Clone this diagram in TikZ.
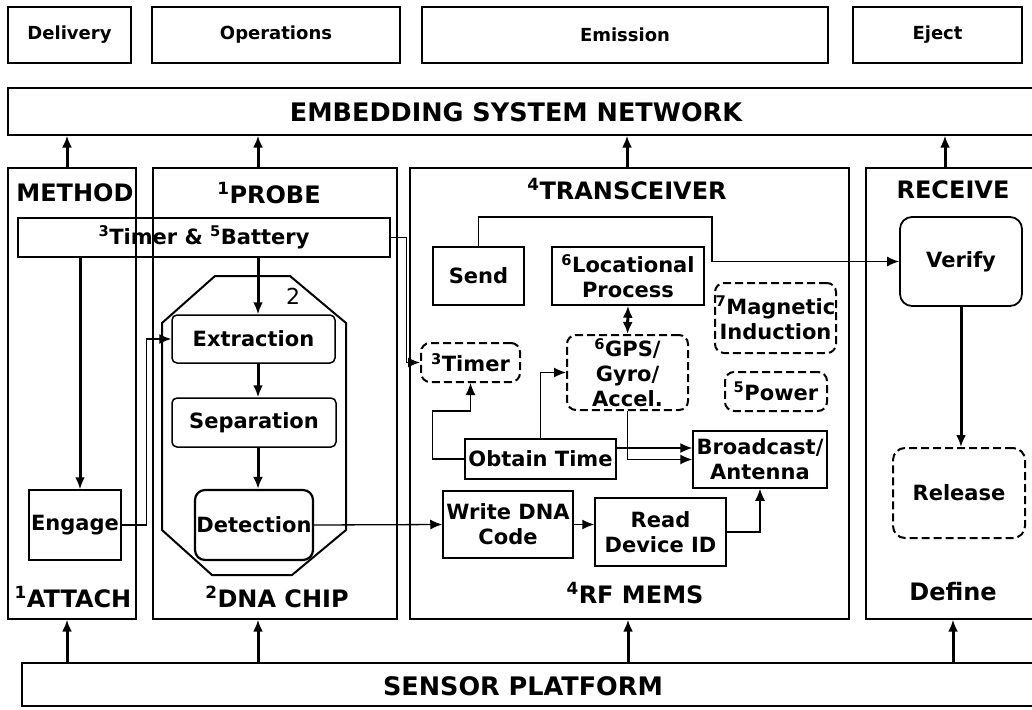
\documentclass[tikz, border = 0pt]{standalone}
\usepackage{fontspec}
\setmainfont{DejaVu Sans}
\usetikzlibrary{arrows.meta}

\newcommand{\tabfont}{\fontsize{18}{22}\selectfont\bfseries}
\newcommand{\boxfont}{\fontsize{21}{25}\selectfont\bfseries}
\newcommand{\lanefont}{\fontsize{24}{28}\selectfont\bfseries}
\newcommand{\bandfont}{\fontsize{25.5}{30}\selectfont\bfseries}

\begin{document}
\begin{tikzpicture}[> = {Latex[length = 12pt, width = 10pt]}, x = 1pt, y = -1pt,
	sized/.style 2 args = {minimum width = #1, minimum height = #2},
	box/.style = {draw, line width = 1.5pt, inner sep = 0pt, align = center, font = \boxfont},
	soft/.style = {box, rounded corners = 5pt},
	maybe/.style = {box, rounded corners = 9pt, line width = 2pt, dash pattern = on 8pt off 4pt},
	lane/.style = {draw, line width = 1.4pt, inner sep = 0pt},
	title/.style = {font = \lanefont},
	flow/.style = {->, line width = 1.3pt},
	feed/.style = {->, line width = 3pt}]

	\useasboundingbox (0, 0) rectangle (1032, 709);

	\node [box, font = \tabfont, sized = {123}{56}] (delivery) at (69.5, 35) {Delivery};
	\node [box, font = \tabfont, sized = {248}{56}] (operations) at (276, 35) {Operations};
	\node [box, font = \tabfont, sized = {406}{56}] (emission) at (625, 35) {Emission};
	\node [box, font = \tabfont, sized = {169}{56}] (eject) at (937.5, 35) {Eject};

	\node [lane, sized = {1032}{47}] (network) at (524, 111.5) {};
	\node [font = \bandfont] (networklabel) at (516, 112) {EMBEDDING SYSTEM NETWORK};
	\node [lane, sized = {1018}{43}] (platform) at (531, 684.5) {};
	\node [font = \bandfont] (platformlabel) at (523, 686) {SENSOR PLATFORM};

	\node [lane, sized = {128}{451}] (method) at (72, 393.5) {};
	\node [lane, sized = {244}{451}] (probe) at (275, 393.5) {};
	\node [lane, sized = {439}{451}] (transceiver) at (629.5, 393.5) {};
	\node [lane, sized = {174}{451}] (receive) at (953, 393.5) {};

	\foreach \lane/\x in {method/67, probe/258, transceiver/627, receive/945} {
		\coordinate (up\lane) at (\x, 0);
		\draw [feed] (\lane.north -| up\lane) -- (network.south -| up\lane);
	}
	\foreach \lane/\x in {method/67, probe/258, transceiver/628, receive/953} {
		\coordinate (down\lane) at (\x, 0);
		\draw [feed] (platform.north -| down\lane) -- (\lane.south -| down\lane);
	}

	\node [title] (methodtop) at (75, 193) {METHOD};
	\node [title] (probetop) at (269, 193) {\textsuperscript{1}PROBE};
	\node [title] (transceivertop) at (627, 189) {\textsuperscript{4}TRANSCEIVER};
	\node [title] (receivetop) at (953, 190) {RECEIVE};
	\node [title] (methodbottom) at (73, 597) {\textsuperscript{1}ATTACH};
	\node [title] (probebottom) at (277, 597) {\textsuperscript{2}DNA CHIP};
	\node [title] (transceiverbottom) at (635, 593) {\textsuperscript{4}RF MEMS};
	\node [title] (receivebottom) at (953, 592) {Define};

	\node [box, sized = {372}{39}] (battery) at (204, 237.5) {\textsuperscript{3}Timer \& \textsuperscript{5}Battery};
	\node [box, sized = {92}{70}] (engage) at (75, 525) {Engage};

	\draw [line width = 2pt] (215, 276) -- (290, 276) -- (346, 323) -- (346, 530) -- (292, 575) -- (212, 575) -- (162, 530) -- (162, 323) -- cycle;
	\node [font = \fontsize{22}{22}\selectfont] (chipnumber) at (293, 296) {2};

	\node [soft, sized = {163}{48}] (extraction) at (253.5, 339) {Extraction};
	\node [soft, sized = {164}{49}] (separation) at (254, 422.5) {Separation};
	\node [soft, rounded corners = 10pt, line width = 2.2pt, sized = {118}{70}] (detection) at (254, 525) {Detection};

	\coordinate (engagedrop) at (80, 0);
	\coordinate (chipdrop) at (258, 0);
	\draw [feed] (battery.south -| engagedrop) -- (engage.north -| engagedrop);
	\draw [feed] (battery.south -| chipdrop) -- (extraction.north -| chipdrop);
	\draw [feed] (extraction.south -| chipdrop) -- (separation.north -| chipdrop);
	\draw [feed] (separation.south -| chipdrop) -- (detection.north -| chipdrop);
	\draw [flow] (engage.east) -- ++(25, 0) |- (extraction.west);

	\node [box, sized = {91}{58}] (send) at (478.5, 276) {Send};
	\node [box, sized = {152}{58}] (locational) at (628, 276) {\textsuperscript{6}Locational\\Process};
	\node [maybe, sized = {121}{70}] (magnetic) at (775.5, 318) {\textsuperscript{7}Magnetic\\Induction};
	\node [maybe, sized = {99}{39}] (timer) at (470.5, 362.5) {\textsuperscript{3}Timer};
	\node [maybe, sized = {121}{75}] (gps) at (627.5, 372.5) {\textsuperscript{6}GPS/\\Gyro/\\Accel.};
	\node [maybe, sized = {102}{39}] (power) at (776, 391.5) {\textsuperscript{5}Power};
	\node [box, sized = {151}{40}] (obtain) at (540.5, 459) {Obtain Time};
	\node [box, sized = {134}{57}] (broadcast) at (760, 459.5) {Broadcast/\\Antenna};
	\node [box, sized = {130}{67}] (write) at (508, 524.5) {Write DNA\\Code};
	\node [box, sized = {131}{68}] (read) at (660.5, 532) {Read\\Device ID};

	\node [soft, rounded corners = 12pt, line width = 1.8pt, sized = {122}{89}] (verify) at (961, 261.5) {Verify};
	\node [maybe, rounded corners = 12pt, sized = {132}{90}] (release) at (959, 493) {Release};

	\coordinate (sendturn) at (712, 217);
	\coordinate (obtainout) at ([yshift = 11pt]obtain.east);
	\draw [flow] (battery.east) -- ++(16, 0) |- (timer.west);
	\draw [flow] (send.north) |- (sendturn) |- (verify.west);
	\draw [feed, <->] (locational.south) -- (gps.north);
	\draw [flow] (obtain.west) -| ++(-32, -48) -| (timer.south);
	\draw [flow] (obtain.north) |- (gps.west);
	\draw [flow] (obtainout) -- (obtainout -| broadcast.west);
	\draw [flow] (gps.south) |- (broadcast.west);
	\draw [flow] (detection.east) -- (write.west);
	\draw [flow] (write.east) -- (write.east -| read.west);
	\draw [flow] (read.east) -| (broadcast.south);
	\draw [feed] (verify.south) -- (verify.south |- release.north);

\end{tikzpicture}
\end{document}
